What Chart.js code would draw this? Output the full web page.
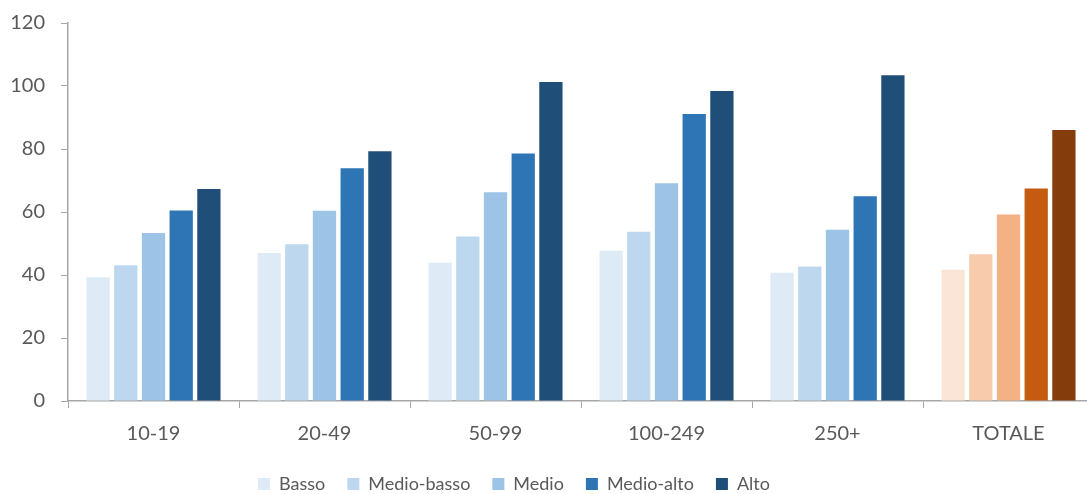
<!DOCTYPE html>
<html>
<head>
<meta charset="utf-8">
<script src="https://cdn.jsdelivr.net/npm/chart.js@4/dist/chart.umd.min.js"></script>
<style>
  html, body { margin: 0; padding: 0; background: #fff; overflow: hidden; }
  /* the category axis runs a little past the right edge of the picture */
  #wrap { width: 1100px; height: 494px; }
</style>
</head>
<body>
<div id="wrap"><canvas id="chart"></canvas></div>
<script>
// ========================
// DATA
// ========================
const categories = ["10-19", "20-49", "50-99", "100-249", "250+", "TOTALE"];
const seriesNames = ["Basso", "Medio-basso", "Medio", "Medio-alto", "Alto"];

const basso      = [39.3, 47.0, 43.9, 47.7, 40.7, 41.7];
const medioBasso = [43.1, 49.8, 52.2, 53.7, 42.7, 46.6];
const medio      = [53.3, 60.4, 66.3, 69.1, 54.4, 59.2];
const medioAlto  = [60.5, 73.9, 78.6, 91.1, 65.0, 67.5];
const alto       = [67.3, 79.3, 101.3, 98.4, 103.4, 86.0];

const yTicks = [0, 20, 40, 60, 80, 100, 120];

// blue shades for size classes, orange shades for the total
const blues   = ['#DEEBF7', '#BDD7EE', '#9DC3E6', '#2E75B6', '#1F4E79'];
const oranges = ['#FBE5D6', '#F8CBAD', '#F4B183', '#C55A11', '#843C0C'];

const seriesValues = [basso, medioBasso, medio, medioAlto, alto];

Chart.defaults.font.family = 'Lato, "Open Sans", sans-serif';
Chart.defaults.color = '#595959';

const datasets = seriesNames.map((name, i) => ({
    label: name,
    data: seriesValues[i],
    backgroundColor: ctx => (ctx.type === 'data' && ctx.dataIndex === categories.length - 1) ? oranges[i] : blues[i],
    borderWidth: 0,
    categoryPercentage: 0.81,
    barPercentage: 0.84
}));

// legend sits left of the canvas centre in the original
const legendShift = {
    id: 'legendShift',
    beforeDraw(chart) {
        const lg = chart.legend;
        if (!lg || lg._shifted) return;
        lg.left -= 33;
        lg.right -= 33;
        lg.top -= 7;
        lg.bottom -= 7;
        lg._shifted = true;
    }
};

new Chart(document.getElementById("chart"), {
    type: "bar",
    data: { labels: categories, datasets: datasets },
    plugins: [legendShift],
    options: {
        responsive: true,
        maintainAspectRatio: false,
        animation: false,
        layout: { padding: { top: 23, right: 6, left: 0, bottom: -16 } },
        plugins: {
            legend: {
                position: 'bottom',
                labels: {
                    boxWidth: 12,
                    boxHeight: 12,
                    padding: 22,
                    font: { size: 18 },
                    color: '#595959'
                }
            },
            tooltip: { enabled: false }
        },
        scales: {
            y: {
                min: 0,
                max: 120,
                afterBuildTicks: axis => { axis.ticks = yTicks.map(v => ({ value: v })); },
                afterFit: axis => {
                    axis.width = 68;
                    axis.paddingTop = 0;
                    axis.paddingBottom = 0;
                },
                grid: {
                    drawOnChartArea: false,
                    drawTicks: true,
                    tickLength: 7,
                    color: '#a6a6a6'
                },
                border: { color: '#a6a6a6', width: 1.5 },
                ticks: {
                    padding: 16,
                    color: '#595959',
                    font: { size: 20 }
                }
            },
            x: {
                grid: {
                    offset: true,
                    drawOnChartArea: false,
                    drawTicks: true,
                    tickLength: 7,
                    color: '#a6a6a6'
                },
                border: { color: '#a6a6a6', width: 1.5 },
                ticks: {
                    padding: 14,
                    color: '#595959',
                    font: { size: 20 }
                }
            }
        }
    }
});
</script>
</body>
</html>
